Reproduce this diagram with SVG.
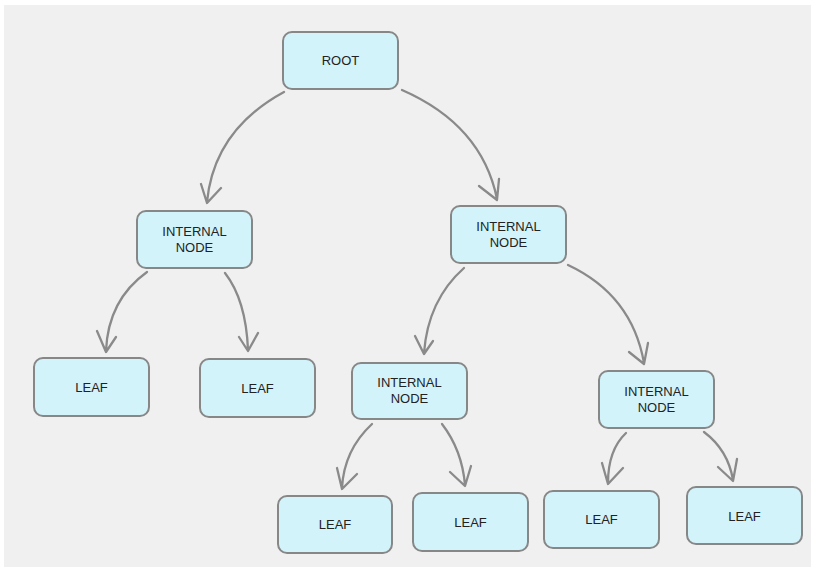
<svg xmlns="http://www.w3.org/2000/svg" width="814" height="569" viewBox="0 0 814 569">
<style>
.box{fill:#d3f3fb;stroke:#878787;stroke-width:2}
.lbl{font-family:"Liberation Sans",Arial,sans-serif;font-size:13px;fill:#222;text-anchor:middle}
.edge{fill:none;stroke:#8a8a8a;stroke-width:2.3;stroke-linecap:round;stroke-linejoin:round}
</style>
<rect x="0" y="0" width="814" height="569" fill="#ffffff"/>
<rect x="4" y="5" width="807" height="562" fill="#f0f0f0"/>
<g id="connectors">
<path class="edge" d="M284,92 Q214,130 207,202 M201,184 L207,203 L221,188"/>
<path class="edge" d="M402,90 Q482,125 497,199 M479,186 L497,200 L499,179"/>
<path class="edge" d="M147,272 Q108,300 106,351 M97,331 L106,352 L116,337"/>
<path class="edge" d="M225,273 Q246,300 248,350 M239,337 L248,351 L258,333"/>
<path class="edge" d="M464,268 Q428,300 424,353 M415,336 L424,354 L433,341"/>
<path class="edge" d="M568,265 Q632,295 644,363 M629,352 L644,364 L648,343"/>
<path class="edge" d="M372,424 Q344,450 342,488 M337,468 L342,489 L357,474"/>
<path class="edge" d="M442,424 Q462,450 465,485 M450,472 L465,486 L471,466"/>
<path class="edge" d="M626,433 Q608,450 608,483 M602,463 L608,484 L623,468"/>
<path class="edge" d="M704,432 Q728,450 733,480 M718,467 L733,481 L737,459"/>
</g>
<g id="root"><rect class="box" x="283" y="32" width="115" height="57" rx="9"/><text class="lbl" x="340.5" y="65">ROOT</text></g>
<g id="internal-l"><rect class="box" x="137" y="211" width="115" height="57" rx="9"/><text class="lbl" x="194.5" y="236">INTERNAL</text><text class="lbl" x="194.5" y="252">NODE</text></g>
<g id="internal-r"><rect class="box" x="451" y="206" width="115" height="57" rx="9"/><text class="lbl" x="508.5" y="231">INTERNAL</text><text class="lbl" x="508.5" y="247">NODE</text></g>
<g id="leaf1"><rect class="box" x="34" y="358" width="115" height="58" rx="9"/><text class="lbl" x="91.5" y="392">LEAF</text></g>
<g id="leaf2"><rect class="box" x="200" y="359" width="115" height="58" rx="9"/><text class="lbl" x="257.5" y="393">LEAF</text></g>
<g id="internal-rl"><rect class="box" x="352" y="363" width="115" height="56" rx="9"/><text class="lbl" x="409.5" y="387">INTERNAL</text><text class="lbl" x="409.5" y="403">NODE</text></g>
<g id="internal-rr"><rect class="box" x="599" y="371" width="115" height="57" rx="9"/><text class="lbl" x="656.5" y="396">INTERNAL</text><text class="lbl" x="656.5" y="412">NODE</text></g>
<g id="leaf3"><rect class="box" x="278" y="496" width="114" height="57" rx="9"/><text class="lbl" x="335" y="529">LEAF</text></g>
<g id="leaf4"><rect class="box" x="413" y="493" width="115" height="58" rx="9"/><text class="lbl" x="470.5" y="527">LEAF</text></g>
<g id="leaf5"><rect class="box" x="544" y="491" width="115" height="57" rx="9"/><text class="lbl" x="601.5" y="524">LEAF</text></g>
<g id="leaf6"><rect class="box" x="687" y="487" width="115" height="57" rx="9"/><text class="lbl" x="744.5" y="521">LEAF</text></g>
</svg>
